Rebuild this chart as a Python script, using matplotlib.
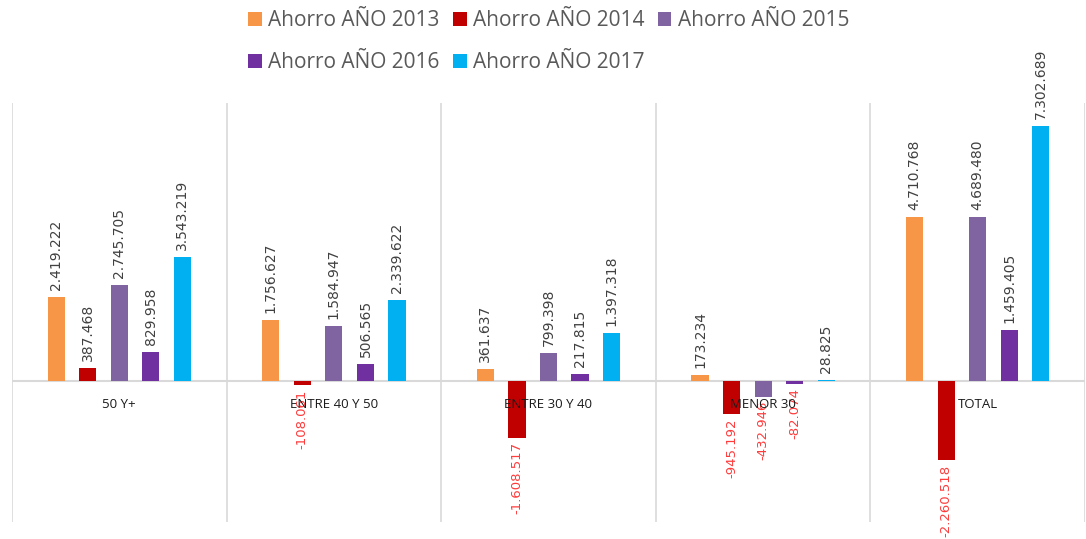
import numpy as np
import matplotlib.pyplot as plt
from matplotlib.transforms import offset_copy

categories = ["50 Y+", "ENTRE 40 Y 50", "ENTRE 30 Y 40", "MENOR 30", "TOTAL"]
series_names = ["Ahorro AÑO 2013", "Ahorro AÑO 2014", "Ahorro AÑO 2015",
                "Ahorro AÑO 2016", "Ahorro AÑO 2017"]
ahorro_2013 = [2419222, 1756627, 361637, 173234, 4710768]
ahorro_2014 = [387468, -108061, -1608517, -945192, -2260518]
ahorro_2015 = [2745705, 1584947, 799398, -432946, 4689480]
ahorro_2016 = [829958, 506565, 217815, -82074, 1459405]
ahorro_2017 = [3543219, 2339622, 1397318, 28825, 7302689]

colors = ["#F79646", "#C00000", "#8064A2", "#7030A0", "#00B0F0"]
all_series = [ahorro_2013, ahorro_2014, ahorro_2015, ahorro_2016, ahorro_2017]

plt.rcParams['font.family'] = ['Open Sans', 'DejaVu Sans']

fig = plt.figure(figsize=(10.86, 5.39), dpi=100)
ax = fig.add_axes([12 / 1086, 1 - 522 / 539, (1085 - 12) / 1086, (522 - 103) / 539])

x = np.arange(len(categories))
step = 0.147
width = 0.08


def fmt(v):
    return f"{v:,.0f}".replace(",", ".")


handles = []
for i, (vals, c) in enumerate(zip(all_series, colors)):
    pos = x + (i - 2) * step
    bars = ax.bar(pos, vals, width, color=c, label=series_names[i], zorder=2)
    handles.append(bars)
    for xp, v in zip(pos, vals):
        if v >= 0:
            tr = offset_copy(ax.transData, fig=fig, y=7, units='dots')
            ax.text(xp, v, fmt(v), rotation=90, ha='center', va='bottom',
                    fontsize=10, family='DejaVu Sans', color='#404040',
                    transform=tr, zorder=4)
        else:
            tr = offset_copy(ax.transData, fig=fig, y=-4, units='dots')
            ax.text(xp, v, fmt(v), rotation=90, ha='center', va='top',
                    fontsize=9.5, family='DejaVu Sans', color='#FF3B3B',
                    transform=tr, zorder=4)

# category labels under the zero line
for xp, cat in zip(x, categories):
    tr = offset_copy(ax.transData, fig=fig, y=-23, units='dots')
    ax.text(xp, 0, cat, ha='center', va='center', fontsize=9.5,
            color='#1A1A1A', transform=tr, zorder=5)

for b in np.arange(-0.5, len(categories), 1.0):
    ax.axvline(b, color='#D9D9D9', lw=1.2, zorder=1)
ax.axhline(0, color='#D9D9D9', lw=1.5, zorder=1)

ax.set_xlim(-0.5, len(categories) - 0.5)
ax.set_ylim(-4.02e6, 7.96e6)
ax.set_xticks([])
ax.set_yticks([])
for s in ax.spines.values():
    s.set_visible(False)

order = [0, 3, 1, 4, 2]
fig.legend([handles[k] for k in order], [series_names[k] for k in order],
           ncol=3, loc='upper left', bbox_to_anchor=(238 / 1086, 1.0),
           frameon=False, fontsize=15, labelcolor='#595959',
           handlelength=0.65, handleheight=0.65, handletextpad=0.3,
           columnspacing=0.65, labelspacing=1.0, borderaxespad=0.1)

fig.savefig("out.png", dpi=100)
